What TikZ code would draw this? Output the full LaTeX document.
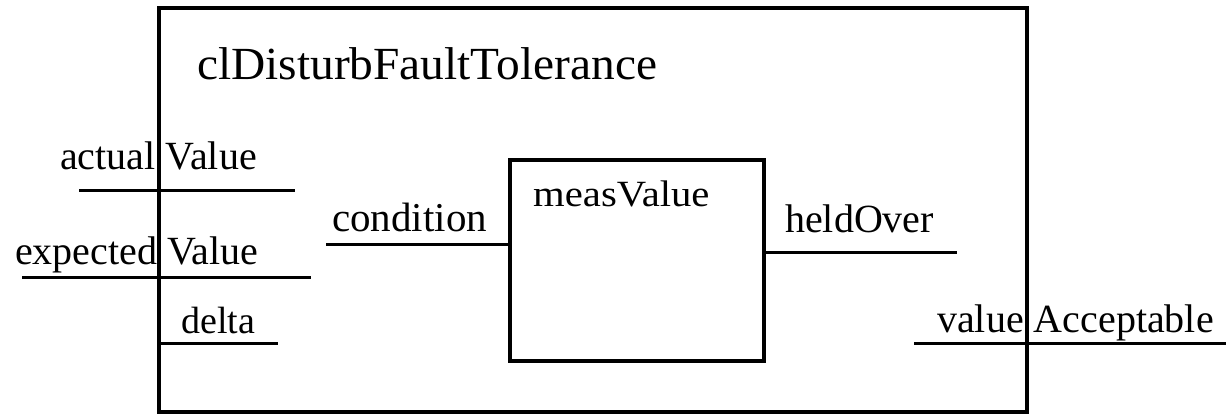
\documentclass[tikz,border=0pt]{standalone}
\usepackage{fontspec}
\setmainfont{Liberation Serif}
\begin{document}
\begin{tikzpicture}[x=1pt,y=-1pt,
  wire/.style={line width=3pt},
  boxline/.style={draw,line width=3.5pt},
  lbl/.style={anchor=base west,inner sep=0pt,font=\fontsize{40}{46}\selectfont},
  ttl/.style={anchor=base west,inner sep=0pt,font=\fontsize{46}{52}\selectfont}]
\useasboundingbox (0,0) rectangle (1226,414);
\draw[boxline] (159,8) rectangle (1027,412);
\node[ttl] (title) at (197,80) {\scalebox{1.03}[1]{clDisturbFaultTolerance}};
\node[boxline,minimum width=254pt,minimum height=201pt,inner sep=0pt] (meas) at (637,260.5) {};
\node[lbl,font=\fontsize{37}{42}\selectfont] (measlbl) at (533,207) {\scalebox{1.1}[1]{measValue}};
% ports
\coordinate (a1) at (79,191); \coordinate (a2) at (295,191);
\coordinate (e1) at (22,277); \coordinate (e2) at (311,277);
\coordinate (d1) at (159,343); \coordinate (d2) at (278,343);
\coordinate (c1) at (326,244);
\coordinate (h2) at (957,252);
\coordinate (v1) at (914,343); \coordinate (v2) at (1226,343);
\draw[wire] (a1) -- (a2);
\draw[wire] (e1) -- (e2);
\draw[wire] (d1) -- (d2);
\draw[wire] (c1) -- (c1 -| meas.west);
\draw[wire] (h2 -| meas.east) -- (h2);
\draw[wire] (v1) -- (v2);
\node[lbl] (actual) at (60,170) {actual Value};
\node[lbl] (expected) at (15,264) {expected Value};
\node[lbl,font=\fontsize{38}{42}\selectfont] (delta) at (181,333) {delta};
\node[lbl,font=\fontsize{41}{46}\selectfont] (cond) at (332,232) {condition};
\node[lbl] (held) at (785,233) {heldOver};
\node[lbl] (valacc) at (937,332) {value Acceptable};
\end{tikzpicture}
\end{document}
